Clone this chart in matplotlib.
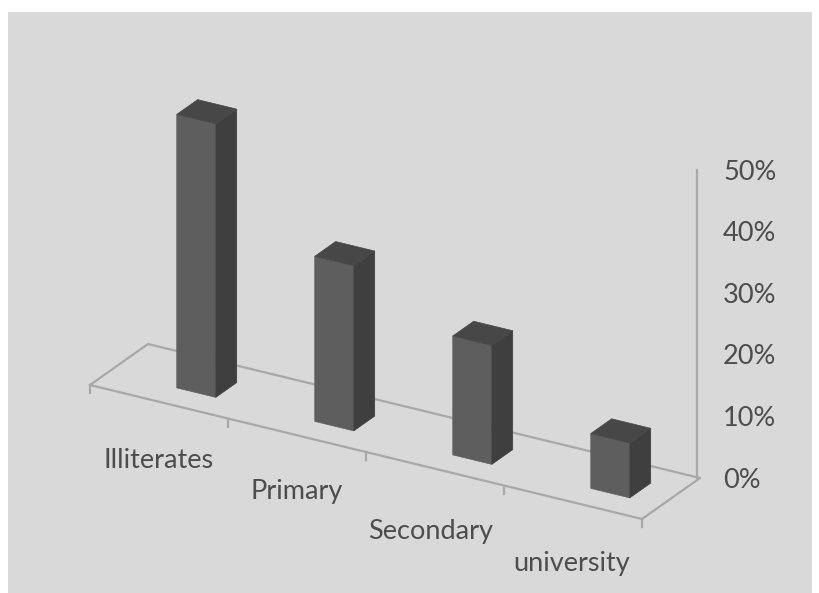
import matplotlib
matplotlib.use("Agg")
import matplotlib.pyplot as plt
from matplotlib.patches import Polygon, Rectangle

# chart values
categories = ["Illiterates", "Primary", "Secondary", "university"]
values = [44.4, 26.8, 19.3, 8.9]
axis_ticks = [0, 10, 20, 30, 40, 50]

plt.rcParams["font.family"] = ["Lato", "DejaVu Sans"]

# oblique floor, in pixels of the picture
origin = (90, 385)
cat_step = (138.0, 33.5)
depth_vec = (58.0, -41.0)
px_per_pct = 6.16

bar_start = 0.49
bar_width = 0.283
bar_back = (0.0, 0.36)

front_col = "#5e5e5e"
side_col = "#3f3f3f"
top_col = "#474747"
line_col = "#a8a8a8"
text_col = "#4d4d4d"
label_size = 19.5


def project(cat, depth, val=0):
    # category position, depth (0 front, 1 back), value in % -> picture pixels
    x = origin[0] + cat * cat_step[0] + depth * depth_vec[0]
    y = origin[1] + cat * cat_step[1] + depth * depth_vec[1] - val * px_per_pct
    return x, y


def draw_bar(ax, i, val):
    c0 = i + bar_start
    c1 = c0 + bar_width
    # depth range of the bar on the floor
    d0 = 0.33
    d1 = d0 + bar_back[1]
    front = [project(c0, d0), project(c1, d0), project(c1, d0, val), project(c0, d0, val)]
    side = [project(c1, d0), project(c1, d1), project(c1, d1, val), project(c1, d0, val)]
    top = [project(c0, d0, val), project(c1, d0, val), project(c1, d1, val), project(c0, d1, val)]
    ax.add_patch(Polygon(front, fc=front_col, ec=front_col, lw=0.5, zorder=3))
    ax.add_patch(Polygon(side, fc=side_col, ec=side_col, lw=0.5, zorder=3))
    ax.add_patch(Polygon(top, fc=top_col, ec=top_col, lw=0.5, zorder=3))


fig = plt.figure(figsize=(8.2, 5.93), dpi=100, facecolor="white")
ax = fig.add_axes([0, 0, 1, 1])
ax.set_xlim(0, 820)
ax.set_ylim(593, 0)
ax.axis("off")

ax.add_patch(Rectangle((8, 12), 804, 581, fc="#d9d9d9", ec="none", zorder=0))

n = len(categories)

# floor
floor = [project(0, 0), project(n, 0), project(n, 1), project(0, 1), project(0, 0)]
ax.plot([p[0] for p in floor], [p[1] for p in floor], color=line_col, lw=1.6, zorder=1)

# ticks along the front edge
for i in range(n + 1):
    x, y = project(i, 0)
    ax.plot([x, x], [y, y + 8], color=line_col, lw=1.6, zorder=1)

# value axis at the back right corner
bx, by = project(n, 1)
ax.plot([bx - 3, bx - 3], [by, by - axis_ticks[-1] * px_per_pct], color=line_col, lw=1.6, zorder=1)
for t in axis_ticks:
    ax.text(bx + 23, by - t * px_per_pct + 2, f"{t}%", fontsize=label_size, color=text_col,
            ha="left", va="center", zorder=4)

for i, val in enumerate(values):
    draw_bar(ax, i, val)

# category labels sit below the front edge
label_xy = [(159, 460), (297, 492), (431, 531), (572, 563)]
for name, (lx, ly) in zip(categories, label_xy):
    ax.text(lx, ly, name, fontsize=label_size, color=text_col, ha="center", va="center", zorder=4)

fig.savefig("out.png", dpi=100)
